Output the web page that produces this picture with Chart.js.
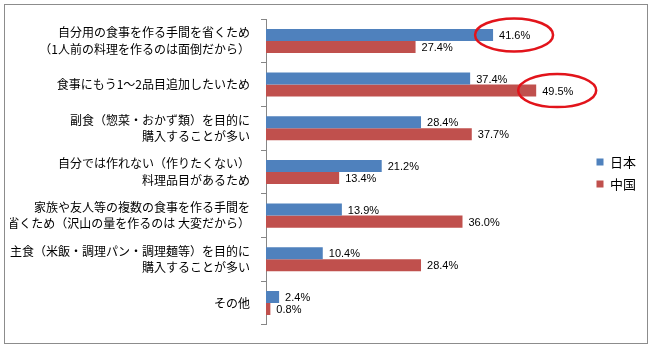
<!DOCTYPE html>
<html lang="ja">
<head>
<meta charset="utf-8">
<script src="https://cdn.jsdelivr.net/npm/chart.js@4/dist/chart.umd.min.js"></script>
<style>
    html, body { margin: 0; padding: 0; background: #ffffff; }
    #wrap { width: 652px; height: 352px; position: relative; }
</style>
</head>
<body>
<div id="wrap"><canvas id="chart" width="652" height="352"></canvas></div>
<script>
// 購入理由（複数回答）
const reasons = [
    ['自分用の食事を作る手間を省くため', '（1人前の料理を作るのは面倒だから）'],
    '食事にもう1～2品目追加したいため',
    ['副食（惣菜・おかず類）を目的に', '購入することが多い'],
    ['自分では作れない（作りたくない）', '料理品目があるため'],
    ['家族や友人等の複数の食事を作る手間を', '省くため（沢山の量を作るのは 大変だから）'],
    ['主食（米飯・調理パン・調理麺等）を目的に', '購入することが多い'],
    'その他',
];
const seriesNames = ['日本', '中国'];
const japan = [41.6, 37.4, 28.4, 21.2, 13.9, 10.4, 2.4];
const china = [27.4, 49.5, 37.7, 13.4, 36.0, 28.4, 0.8];
// circled values: [dataset, index]
const circled = [[0, 0], [1, 1]];

const jpFont = '"Noto Sans CJK JP", "Noto Sans", sans-serif';

// outer frame round the whole chart
const framePlugin = {
    id: 'frame',
    beforeDraw(chart) {
        const ctx = chart.ctx;
        ctx.save();
        ctx.strokeStyle = '#8c8c8c';
        ctx.lineWidth = 1;
        ctx.strokeRect(4.5, 4.5, 643, 339);
        ctx.restore();
    }
};

// value labels at the end of each bar, plus the red circles
const labelsPlugin = {
    id: 'barLabels',
    afterDatasetsDraw(chart) {
        const ctx = chart.ctx;
        ctx.save();
        ctx.font = '11px "Liberation Sans", Arial, sans-serif';
        ctx.fillStyle = '#000000';
        ctx.textAlign = 'left';
        ctx.textBaseline = 'middle';
        chart.data.datasets.forEach((ds, di) => {
            chart.getDatasetMeta(di).data.forEach((bar, i) => {
                ctx.fillText(ds.data[i].toFixed(1) + '%', bar.x + 6, bar.y + 1);
            });
        });

        ctx.strokeStyle = '#e2141b';
        ctx.lineWidth = 2.5;
        circled.forEach(([di, i]) => {
            const bar = chart.getDatasetMeta(di).data[i];
            ctx.beginPath();
            ctx.ellipse(bar.x + 21, bar.y, 39, 16.5, 0, 0, Math.PI * 2);
            ctx.stroke();
        });
        ctx.restore();
    }
};

const ctx = document.getElementById('chart').getContext('2d');
new Chart(ctx, {
    type: 'bar',
    data: {
        labels: reasons,
        datasets: [
            {
                label: seriesNames[0],
                data: japan,
                backgroundColor: '#4f81bd',
                categoryPercentage: 0.55,
                barPercentage: 1.0,
            },
            {
                label: seriesNames[1],
                data: china,
                backgroundColor: '#c0504d',
                categoryPercentage: 0.55,
                barPercentage: 1.0,
            }
        ]
    },
    options: {
        responsive: false,
        animation: false,
        indexAxis: 'y',
        layout: {
            padding: { top: 18, bottom: 24, left: 10, right: 6 }
        },
        scales: {
            x: {
                display: false,
                min: 0,
                max: 58.9,
            },
            y: {
                afterFit(scale) {
                    scale.width = 256;
                },
                border: { color: '#868686', width: 1 },
                grid: {
                    offset: true,
                    drawOnChartArea: false,
                    color: '#868686',
                    tickLength: 5,
                },
                ticks: {
                    color: '#000000',
                    padding: 11,
                    font: { family: jpFont, size: 12, lineHeight: 1.35 }
                }
            }
        },
        plugins: {
            legend: {
                position: 'right',
                labels: {
                    color: '#000000',
                    boxWidth: 7,
                    boxHeight: 7,
                    padding: 9,
                    font: { family: jpFont, size: 13 }
                }
            },
            tooltip: { enabled: false }
        }
    },
    plugins: [framePlugin, labelsPlugin]
});
</script>
</body>
</html>
